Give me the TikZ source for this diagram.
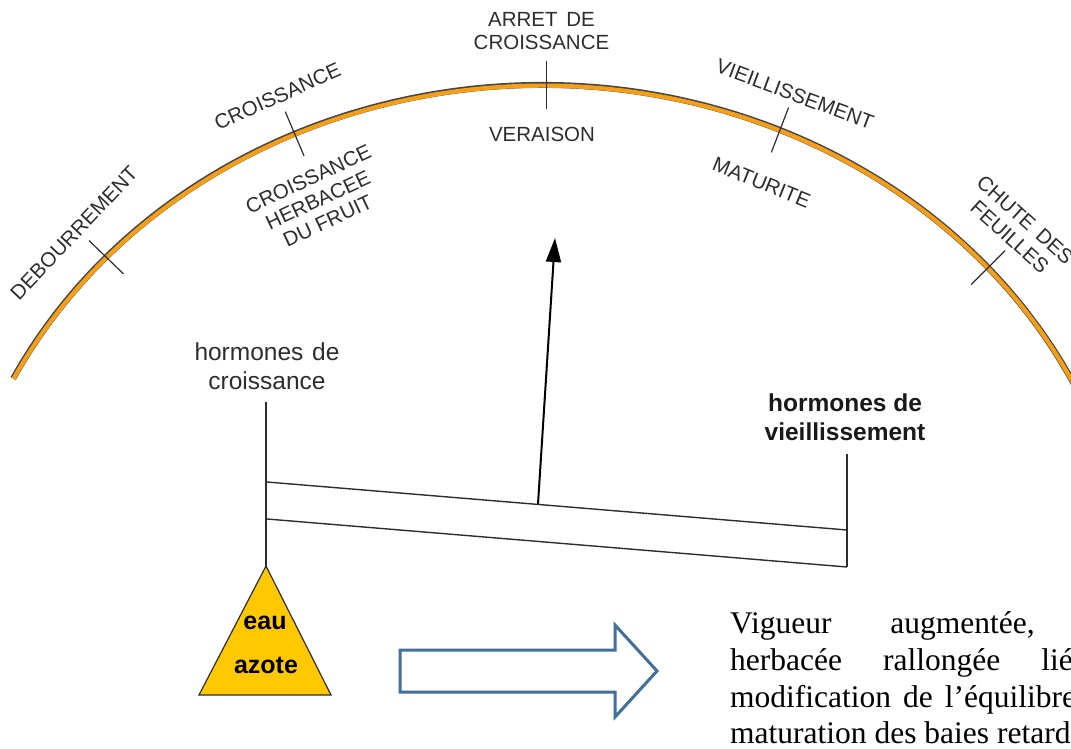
\documentclass[tikz,border=0pt]{standalone}
\usepackage{fontspec}
\setmainfont{Liberation Sans}
\newfontfamily\tmsfont{Liberation Serif}
\usetikzlibrary{calc,arrows.meta}
\definecolor{arcorange}{RGB}{245,158,22}
\definecolor{arcedge}{RGB}{70,70,70}
\definecolor{lbl}{RGB}{45,45,45}
\definecolor{gold}{RGB}{255,200,0}
\definecolor{bluearrow}{RGB}{65,110,155}
\begin{document}
\begin{tikzpicture}[x=1pt,y=-1pt,
  lab/.style={font=\fontsize{20.5}{23}\selectfont, text=lbl, inner sep=0pt, align=center},
  tickline/.style={draw=lbl, line width=1.2pt},
  beamline/.style={draw=lbl, line width=1.4pt},
  hormlab/.style={font=\fontsize{24.5}{29}\selectfont, text=lbl, inner sep=0pt, align=center},
  hormbold/.style={font=\bfseries\fontsize{24.5}{29}\selectfont, text=black!90, inner sep=0pt, align=center},
  trilab/.style={font=\bfseries\fontsize{25}{30}\selectfont, text=black, inner sep=0pt, anchor=base},
  body/.style={font=\tmsfont\fontsize{31.5}{37}\selectfont, text=black, inner sep=0pt, anchor=base west},
]
\useasboundingbox (0,0) rectangle (1071,749);
\clip (0,0) rectangle (1071,749);
% arc
\coordinate (O) at (542,618);
\coordinate (arcL) at ($(O)+(153.3:592pt and 533pt)$);
\draw[arcedge, line width=6pt] (arcL) arc[start angle=153.3, end angle=10, x radius=592pt, y radius=533pt];
\draw[arcorange, line width=4.2pt] ($(arcL)+(0.4pt,-0.3pt)$) arc[start angle=153.25, end angle=10, x radius=592pt, y radius=533pt];
% tick points
\coordinate (pD) at ($(O)+(137.4:592pt and 533pt)$);
\coordinate (pC) at ($(O)+(114.7:592pt and 533pt)$);
\coordinate (pT) at ($(O)+(89.6:592pt and 533pt)$);
\coordinate (pV) at ($(O)+(66.3:592pt and 533pt)$);
\coordinate (pF) at ($(O)+(41.1:592pt and 533pt)$);
\draw[tickline] ($(pD)+(136:24pt)$) -- ($(pD)+(316:24pt)$);
\draw[tickline] ($(pC)+(113:24pt)$) -- ($(pC)+(293:24pt)$);
\draw[tickline] ($(pT)+(90:24pt)$) -- ($(pT)+(270:24pt)$);
\draw[tickline] ($(pV)+(69:24pt)$) -- ($(pV)+(249:24pt)$);
\draw[tickline] ($(pF)+(45:24pt)$) -- ($(pF)+(225:24pt)$);
% stage labels
\node[lab] (arret) at (541.5,31.5) {ARRET\hspace{3pt} DE\\CROISSANCE};
\node[lab] (verais) at (542,134.5) {VERAISON};
\node[lab, rotate=46.5] (debour) at (74,233) {DEBOURREMENT};
\node[lab, rotate=24] (crois) at (277.5,96.5) {CROISSANCE};
\node[lab, rotate=25] (herb) at (318,200) {CROISSANCE\\HERBACEE\\DU FRUIT};
\node[lab, rotate=-20.5] (vieil) at (795,94.5) {VIEILLISSEMENT};
\node[lab, rotate=-22] (matur) at (761.5,182.5) {MATURITE};
\node[lab, rotate=-42] (chute) at (1017.5,228.5) {CHUTE\hspace{3pt} DES\\FEUILLES};
% balance
\node[hormlab] (hcrois) at (267,366.5) {hormones\hspace{2pt} de\\croissance};
\node[hormbold] (hvieil) at (845,417) {hormones de\\vieillissement};
\coordinate (postLtop) at (266,402);
\coordinate (apex) at (266,566);
\coordinate (baseR) at (331,695);
\coordinate (baseL) at (199,695);
\coordinate (bl1) at (267,482);
\coordinate (br1) at (847,530);
\coordinate (bl2) at (267,519);
\coordinate (br2) at (847,567);
\coordinate (postRtop) at (847,454);
\coordinate (pivot) at (538,504);
\coordinate (tip) at (555,238);
\draw[beamline] (postLtop) -- (apex);
\draw[beamline] (postRtop) -- (br2);
\draw[beamline] (bl1) -- (br1);
\draw[beamline] (bl2) -- (br2);
\draw[black, line width=2pt, -{Triangle[length=24pt,width=15pt]}] (pivot) -- (tip);
% triangle
\draw[draw=lbl, line width=1.2pt, fill=gold, line join=miter] (apex) -- (baseR) -- (baseL) -- cycle;
\node[trilab] (eau) at (265,629) {eau};
\node[trilab] (azote) at (266,673) {azote};
% block arrow
\draw[draw=bluearrow, line width=3pt, line join=miter, fill=white]
  (400,650) -- (615,650) -- (615,625) -- (657,671) -- (615,717) -- (615,692) -- (400,692) -- cycle;
% body text
\node[body] (l1) at (730,633) {Vigueur\hspace{58.8pt}augmentée,};
\node[body] (l2) at (730,670) {herbacée\hspace{41pt}rallongée\hspace{41pt}liée};
\node[body] (l3) at (730,707) {modification\hspace{12pt}de\hspace{12pt}l’équilibre};
\node[body] (l4) at (730,743) {maturation des baies retardée};
\end{tikzpicture}
\end{document}
